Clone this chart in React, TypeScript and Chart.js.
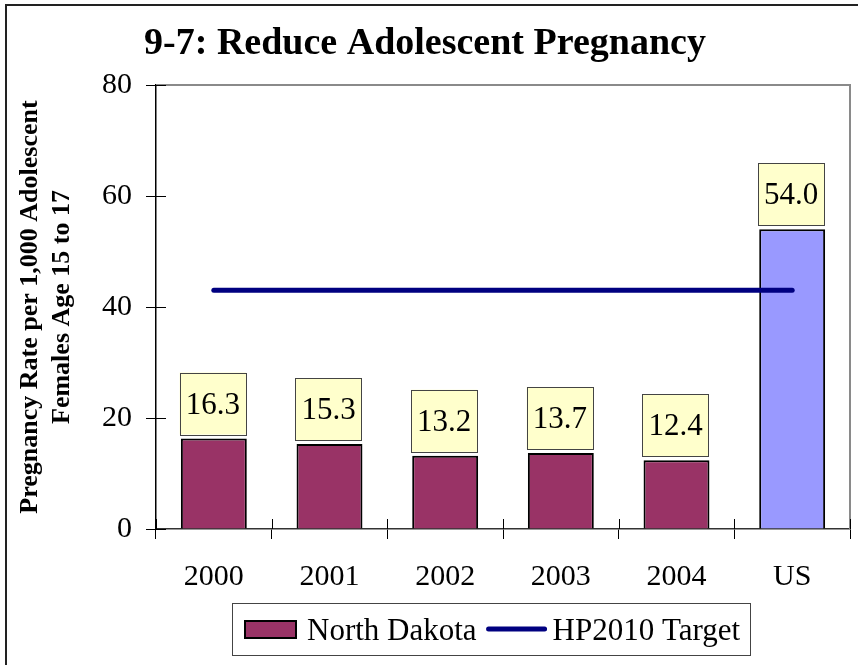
import React, { useEffect, useRef } from 'react';
import { Chart, registerables } from 'chart.js';

Chart.register(...registerables);

// ---- data ----
const categories = ['2000', '2001', '2002', '2003', '2004', 'US'];
const pregnancyRates = [16.3, 15.3, 13.2, 13.7, 12.4, 54.0];
const hp2010Target = [43, 43, 43, 43, 43, 43];
const seriesNames = ['North Dakota', 'HP2010 Target'];
const chartTitle = '9-7: Reduce Adolescent Pregnancy';
const yAxisTitle = ['Pregnancy Rate per 1,000 Adolescent', 'Females Age 15 to 17'];
const yMin = 0;
const yMax = 80;
const yStep = 20;

// ---- styles ----
const SERIF = '"Liberation Serif", "Times New Roman", Times, serif';
const MAROON = '#993366';
const LAVENDER = '#9999FF';
const NAVY = '#000080';
const LABEL_BG = '#FFFFCC';

const decorPlugin = {
  id: 'decor',
  beforeDatasetsDraw(chart: any) {
    const { ctx, chartArea: a } = chart;
    ctx.save();
    // plot area frame (top + right)
    ctx.strokeStyle = '#8a8a8a';
    ctx.lineWidth = 2;
    ctx.beginPath();
    ctx.moveTo(a.left, a.top);
    ctx.lineTo(a.right, a.top);
    ctx.lineTo(a.right, a.bottom);
    ctx.stroke();
    // inner halves of cross tick marks
    ctx.strokeStyle = '#000';
    ctx.lineWidth = 1;
    const ys = chart.scales.y;
    ys.ticks.forEach((_t: any, i: number) => {
      const py = Math.round(ys.getPixelForTick(i)) + 0.5;
      ctx.beginPath();
      ctx.moveTo(a.left, py);
      ctx.lineTo(a.left + 10, py);
      ctx.stroke();
    });
    const xs = chart.scales.x;
    for (let i = 0; i <= categories.length; i++) {
      const px = Math.round(xs.getPixelForValue(i - 0.5)) + 0.5;
      ctx.beginPath();
      ctx.moveTo(px, a.bottom);
      ctx.lineTo(px, a.bottom - 10);
      ctx.stroke();
    }
    ctx.restore();
  },
  afterDatasetsDraw(chart: any) {
    const { ctx } = chart;
    const meta = chart.getDatasetMeta(0);
    ctx.save();
    ctx.font = `31px ${SERIF}`;
    meta.data.forEach((bar: any, i: number) => {
      const text = pregnancyRates[i].toFixed(1);
      const w = ctx.measureText(text).width + 12;
      const h = 62;
      const cx = bar.x - 1;
      const bottom = bar.y - 4;
      ctx.fillStyle = LABEL_BG;
      ctx.fillRect(cx - w / 2, bottom - h, w, h);
      ctx.strokeStyle = '#444';
      ctx.lineWidth = 1;
      ctx.strokeRect(Math.round(cx - w / 2) + 0.5, Math.round(bottom - h) + 0.5, Math.round(w), h);
      ctx.fillStyle = '#000';
      ctx.textAlign = 'center';
      ctx.textBaseline = 'alphabetic';
      ctx.fillText(text, cx, bottom - 21);
    });
    ctx.restore();
  },
  afterDraw(chart: any) {
    const { ctx, width, height } = chart;
    ctx.save();
    // outer frame (left + top visible)
    ctx.strokeStyle = '#222';
    ctx.lineWidth = 2;
    ctx.beginPath();
    ctx.moveTo(6, height + 2);
    ctx.lineTo(6, 5);
    ctx.lineTo(width + 2, 5);
    ctx.stroke();

    // legend
    const lx = 232, ly = 603, lw = 518, lh = 52;
    ctx.strokeStyle = '#444';
    ctx.lineWidth = 1;
    ctx.strokeRect(lx + 0.5, ly + 0.5, lw, lh);
    const midY = ly + lh / 2;
    // bar swatch
    ctx.fillStyle = MAROON;
    ctx.fillRect(244, midY - 9, 53, 19);
    ctx.strokeStyle = '#000';
    ctx.lineWidth = 2;
    ctx.strokeRect(245, midY - 8, 51, 17);
    ctx.font = `31px ${SERIF}`;
    ctx.fillStyle = '#000';
    ctx.textAlign = 'left';
    ctx.textBaseline = 'alphabetic';
    ctx.fillText(seriesNames[0], 307, midY + 11);
    const w0 = ctx.measureText(seriesNames[0]).width;
    const lineStart = 307 + w0 + 12;
    ctx.strokeStyle = NAVY;
    ctx.lineWidth = 5;
    ctx.lineCap = 'round';
    ctx.beginPath();
    ctx.moveTo(lineStart, midY);
    ctx.lineTo(lineStart + 56, midY);
    ctx.stroke();
    ctx.fillText(seriesNames[1], lineStart + 64, midY + 11);
    ctx.restore();
  },
};

export default function App() {
  const canvasRef = useRef<HTMLCanvasElement | null>(null);

  useEffect(() => {
    if (!canvasRef.current) return;
    const chart = new Chart(canvasRef.current, {
      type: 'bar',
      data: {
        labels: categories,
        datasets: [
          {
            type: 'bar',
            label: seriesNames[0],
            data: pregnancyRates,
            backgroundColor: (c: any) => (categories[c.dataIndex] === 'US' ? LAVENDER : MAROON),
            borderColor: '#000',
            borderWidth: 2,
            barPercentage: 0.57,
            categoryPercentage: 1,
            order: 1,
          },
          {
            type: 'line',
            label: seriesNames[1],
            data: hp2010Target,
            borderColor: NAVY,
            backgroundColor: NAVY,
            borderWidth: 5,
            borderCapStyle: 'round',
            pointRadius: 0,
            fill: false,
            order: 0,
          },
        ],
      } as any,
      options: {
        animation: false,
        responsive: true,
        maintainAspectRatio: false,
        devicePixelRatio: 1,
        layout: { padding: { left: 0, right: 8, top: 0, bottom: 0 } },
        plugins: {
          legend: { display: false },
          tooltip: { enabled: false },
          title: {
            display: true,
            text: chartTitle,
            color: '#000',
            font: { family: SERIF, size: 38, weight: 'bold', lineHeight: 1.2 },
            padding: { top: 21.5, bottom: 17.9 },
          },
        },
        scales: {
          x: {
            offset: true,
            grid: {
              offset: true,
              drawOnChartArea: false,
              drawTicks: true,
              tickLength: 10,
              color: '#000',
              lineWidth: 1,
            },
            border: { display: true, color: '#333', width: 1.5 },
            ticks: {
              color: '#000',
              font: { family: SERIF, size: 30 },
              padding: 20,
              maxRotation: 0,
            },
            afterFit: (s: any) => {
              s.height = 136;
            },
          },
          y: {
            min: yMin,
            max: yMax,
            ticks: {
              stepSize: yStep,
              color: '#000',
              font: { family: SERIF, size: 30 },
              padding: 14,
            },
            grid: {
              drawOnChartArea: false,
              drawTicks: true,
              tickLength: 10,
              color: '#000',
              lineWidth: 1,
            },
            border: { display: true, color: '#000', width: 1.5 },
            title: {
              display: true,
              text: yAxisTitle,
              color: '#000',
              font: { family: SERIF, size: 26, weight: 'bold', lineHeight: 1.2 },
              padding: { top: 15, bottom: 0 },
            },
            afterFit: (s: any) => {
              s.width = 156;
            },
          },
        },
      } as any,
      plugins: [decorPlugin],
    });
    return () => chart.destroy();
  }, []);

  return (
    <div style={{ position: 'absolute', left: 0, top: 0, width: 858, height: 665, background: '#fff' }}>
      <canvas ref={canvasRef} />
    </div>
  );
}
